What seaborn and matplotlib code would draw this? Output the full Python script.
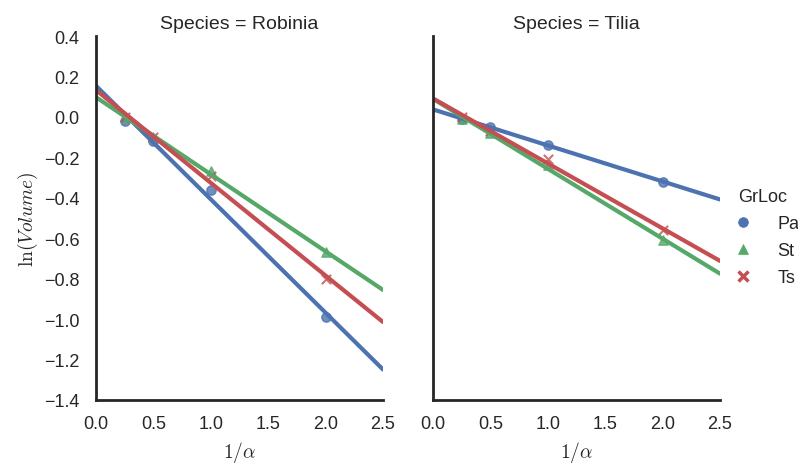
import numpy as np
import pandas as pd
import seaborn as sns
import matplotlib
matplotlib.use("Agg")
import matplotlib.pyplot as plt
from matplotlib.lines import Line2D

# Measurements: inverse shape parameter vs log volume, by species and ground location
inv_alpha = [0.25, 0.5, 1.0, 2.0]
species = ["Robinia", "Tilia"]
grloc = ["Pa", "St", "Ts"]

robinia_pa = [-0.02, -0.12, -0.36, -0.99]
robinia_st = [0.00, -0.10, -0.27, -0.67]
robinia_ts = [0.00, -0.10, -0.29, -0.80]
tilia_pa = [-0.01, -0.05, -0.14, -0.32]
tilia_st = [-0.01, -0.08, -0.24, -0.61]
tilia_ts = [0.00, -0.07, -0.21, -0.56]

series = {
    ("Robinia", "Pa"): robinia_pa,
    ("Robinia", "St"): robinia_st,
    ("Robinia", "Ts"): robinia_ts,
    ("Tilia", "Pa"): tilia_pa,
    ("Tilia", "St"): tilia_st,
    ("Tilia", "Ts"): tilia_ts,
}
rows = []
for (sp, loc), vals in series.items():
    for x, y in zip(inv_alpha, vals):
        rows.append({"Species": sp, "GrLoc": loc, "inv_alpha": x, "lnV": y})
df = pd.DataFrame(rows)

sns.set_theme(style="white")
plt.rcParams["font.family"] = ["Liberation Sans", "DejaVu Sans"]
plt.rcParams["mathtext.fontset"] = "cm"
plt.rcParams["axes.edgecolor"] = "#262626"
plt.rcParams["xtick.labelsize"] = 13
plt.rcParams["ytick.labelsize"] = 13

palette = ["#4C72B0", "#55A868", "#C44E52"]
markers = ["o", "^", "x"]

g = sns.lmplot(
    data=df, x="inv_alpha", y="lnV", col="Species", hue="GrLoc",
    hue_order=grloc, col_order=species, palette=palette, markers=markers,
    ci=None, truncate=False, legend=False, height=4.64, aspect=0.8,
    scatter_kws={"s": 45},
    line_kws={"lw": 3},
    facet_kws={"xlim": (0, 2.5), "ylim": (-1.4, 0.4)},
)
fig = g.figure
fig.set_size_inches(7.98, 4.64)
ax0, ax1 = g.axes.flat
ax0.set_position([96 / 798, 1 - 401 / 464, 287 / 798, 364 / 464])
ax1.set_position([433 / 798, 1 - 401 / 464, 287 / 798, 364 / 464])

g.set_titles("Species = {col_name}", size=14, color="#262626")
for ax in g.axes.flat:
    ax.set_xticks(np.arange(0, 2.51, 0.5))
    ax.set_xlabel(r"$1/\alpha$", fontsize=14, labelpad=5)
    for sp in ("left", "bottom"):
        ax.spines[sp].set_linewidth(2)
    ax.tick_params(axis="y", colors="#262626", pad=6)
    ax.tick_params(axis="x", colors="#262626", pad=5)
ax0.set_yticks(np.arange(-1.4, 0.41, 0.2))
ax0.set_ylabel(r"$\mathrm{ln}(Volume)$", fontsize=14, labelpad=3)
ax1.set_ylabel("")

handles = [
    Line2D([], [], marker=m, color=c, linestyle="", markersize=7,
           markeredgewidth=2.5 if m == "x" else 0.5)
    for m, c in zip(markers, palette)
]
leg = fig.legend(handles, grloc, title="GrLoc", loc="center left",
                 bbox_to_anchor=(718 / 798, 1 - 238 / 464), frameon=False,
                 borderaxespad=0, fontsize=13, title_fontsize=13,
                 handletextpad=0.9, labelspacing=0.55)

fig.savefig("out.png", dpi=100)
